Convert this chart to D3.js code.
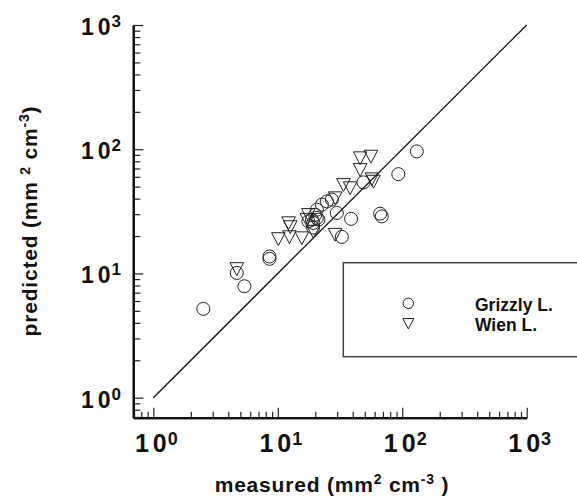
<!DOCTYPE html>
<html>
<head>
<meta charset="utf-8">
<script src="https://cdn.jsdelivr.net/npm/d3@7"></script>
<style>
  body { margin: 0; background: #fff; }
  text { font-family: "Liberation Sans", Arial, Helvetica, sans-serif; font-weight: bold; fill: #111; }
</style>
</head>
<body>
<svg id="chart" width="577" height="496"></svg>
<script>
// Grizzly L. (circles): measured, predicted
var grizzlyMeasured  = [2.52, 5.39, 4.68, 8.57, 8.57, 131, 93, 66.4, 68.5, 38.8, 32.7, 48.8, 29.8, 24.8, 27.2, 20.6, 18.8, 19.3, 20.6, 17.6, 21.2, 20.0, 19.2, 22.6];
var grizzlyPredicted = [5.19, 7.89, 10.1, 13.7, 13.1, 96, 63, 30.3, 28.8, 27.5, 19.7, 54.1, 30.7, 38.0, 39.3, 32.6, 27.1, 25.5, 28.0, 26.3, 27.1, 29.7, 23.4, 35.8];

// Wien L. (down triangles): measured, predicted
var wienMeasured  = [4.68, 10.1, 12.4, 15.6, 12.2, 12.6, 17.6, 17.1, 19.3, 28.9, 28.9, 33.7, 38.1, 45.9, 56.0, 45.9, 57.0, 58.7];
var wienPredicted = [10.9, 19.0, 19.7, 19.3, 25.5, 23.7, 29.7, 27.2, 21.8, 20.6, 40.5, 51.8, 48.8, 85.0, 87.6, 68.4, 57.6, 55.1];

var majorTicks = [1, 10, 100, 1000];
var tickExponents = ["0", "1", "2", "3"];
var legendLabels = ["Grizzly L.", "Wien L."];

var svg = d3.select('#chart');

var xScale = d3.scaleLog()
    .domain([0.69, 1000])
    .range([133.3, 526.7]);

var yScale = d3.scaleLog()
    .domain([0.69, 1000])
    .range([417.7, 25]);

// minor ticks: 2..9 of every decade plus the bit below 1
var minorTicks = [];
[0.1, 1, 10, 100].forEach(function(dec) {
    for (var k = 2; k <= 9; k++) {
        var v = k * dec;
        if (v >= 0.69 && v < 1000) minorTicks.push(v);
    }
});

var xAxisY = yScale.range()[0];
var yAxisX = xScale.range()[0];

// ticks point inward
svg.append('g')
    .attr('transform', 'translate(0,' + xAxisY + ')')
    .call(d3.axisBottom(xScale).tickValues(minorTicks).tickSize(-6).tickFormat('').tickSizeOuter(0));
svg.append('g')
    .attr('transform', 'translate(0,' + xAxisY + ')')
    .call(d3.axisBottom(xScale).tickValues(majorTicks).tickSize(-10).tickFormat('').tickSizeOuter(0));
svg.append('g')
    .attr('transform', 'translate(' + yAxisX + ',0)')
    .call(d3.axisLeft(yScale).tickValues(minorTicks).tickSize(-7).tickFormat('').tickSizeOuter(0));
svg.append('g')
    .attr('transform', 'translate(' + yAxisX + ',0)')
    .call(d3.axisLeft(yScale).tickValues(majorTicks).tickSize(-10).tickFormat('').tickSizeOuter(0));

svg.selectAll('.tick line').attr('stroke', '#222').attr('stroke-width', 1.2);
svg.selectAll('.domain').attr('stroke', '#111').attr('stroke-width', 2.2);

// "1 0" then a raised exponent
function powerLabel(sel, size, supSize, rise, exp) {
    sel.style('font-size', size + 'px');
    sel.append('tspan').text('1');
    sel.append('tspan').attr('dx', 4).text('0');
    sel.append('tspan').attr('dx', 1).attr('dy', -rise).style('font-size', supSize + 'px').text(exp);
}

majorTicks.forEach(function(v, i) {
    var t = svg.append('text')
        .attr('x', xScale(v) + 3)
        .attr('y', 452)
        .attr('text-anchor', 'middle');
    powerLabel(t, 25, 18, 7, tickExponents[i]);

    var s = svg.append('text')
        .attr('x', 121)
        .attr('y', yScale(v) + 10)
        .attr('text-anchor', 'end');
    powerLabel(s, 23, 17, 8, tickExponents[i]);
});

// axis titles
var xt = svg.append('text')
    .attr('x', 332)
    .attr('y', 492)
    .attr('text-anchor', 'middle')
    .style('font-size', '21px')
    .style('letter-spacing', '0.8px');
xt.append('tspan').text('measured (mm');
xt.append('tspan').attr('dy', -8).style('font-size', '14px').text('2');
xt.append('tspan').attr('dy', 8).text(' cm');
xt.append('tspan').attr('dy', -8).style('font-size', '14px').text('-3');
xt.append('tspan').attr('dy', 8).text(' )');

var yt = svg.append('text')
    .attr('transform', 'translate(37,221) rotate(-90)')
    .attr('text-anchor', 'middle')
    .style('font-size', '21px')
    .style('letter-spacing', '0.8px');
yt.append('tspan').text('predicted (mm ');
yt.append('tspan').attr('dy', -7).style('font-size', '14px').text('2');
yt.append('tspan').attr('dy', 7).text(' cm');
yt.append('tspan').attr('dy', -8).style('font-size', '14px').text('-3');
yt.append('tspan').attr('dy', 8).text(')');

// 1:1 line
svg.append('line')
    .attr('x1', xScale(1)).attr('y1', yScale(1))
    .attr('x2', xScale(1000)).attr('y2', yScale(1000))
    .attr('stroke', '#111')
    .attr('stroke-width', 1.3);

var triangle = function(r) {
    var h = r * 0.9;
    return 'M' + (-r) + ',' + (-h) + 'L' + r + ',' + (-h) + 'L0,' + (h * 1.1) + 'Z';
};

var grizzly = grizzlyMeasured.map(function(m, i) { return {x: m, y: grizzlyPredicted[i]}; });
var wien = wienMeasured.map(function(m, i) { return {x: m, y: wienPredicted[i]}; });

svg.selectAll('.wien')
    .data(wien)
    .enter().append('path')
    .attr('class', 'wien')
    .attr('d', triangle(6.8))
    .attr('transform', function(d) { return 'translate(' + xScale(d.x) + ',' + yScale(d.y) + ')'; })
    .attr('fill', 'none')
    .attr('stroke', '#222')
    .attr('stroke-width', 1);

svg.selectAll('.grizzly')
    .data(grizzly)
    .enter().append('circle')
    .attr('class', 'grizzly')
    .attr('cx', function(d) { return xScale(d.x); })
    .attr('cy', function(d) { return yScale(d.y); })
    .attr('r', 6.5)
    .attr('fill', 'none')
    .attr('stroke', '#222')
    .attr('stroke-width', 1);

// legend
var legend = svg.append('g');
legend.append('rect')
    .attr('x', 343.3).attr('y', 262.7)
    .attr('width', 260).attr('height', 94)
    .attr('fill', 'none')
    .attr('stroke', '#444')
    .attr('stroke-width', 1.5);

legend.append('circle')
    .attr('cx', 408.3).attr('cy', 303.3).attr('r', 5.2)
    .attr('fill', 'none').attr('stroke', '#222').attr('stroke-width', 1);
legend.append('path')
    .attr('d', triangle(5.5))
    .attr('transform', 'translate(408.3,323.5)')
    .attr('fill', 'none').attr('stroke', '#222').attr('stroke-width', 1);

legendLabels.forEach(function(lbl, i) {
    legend.append('text')
        .attr('x', 475)
        .attr('y', 311 + i * 20)
        .style('font-size', '17.5px')
        .text(lbl);
});
</script>
</body>
</html>
